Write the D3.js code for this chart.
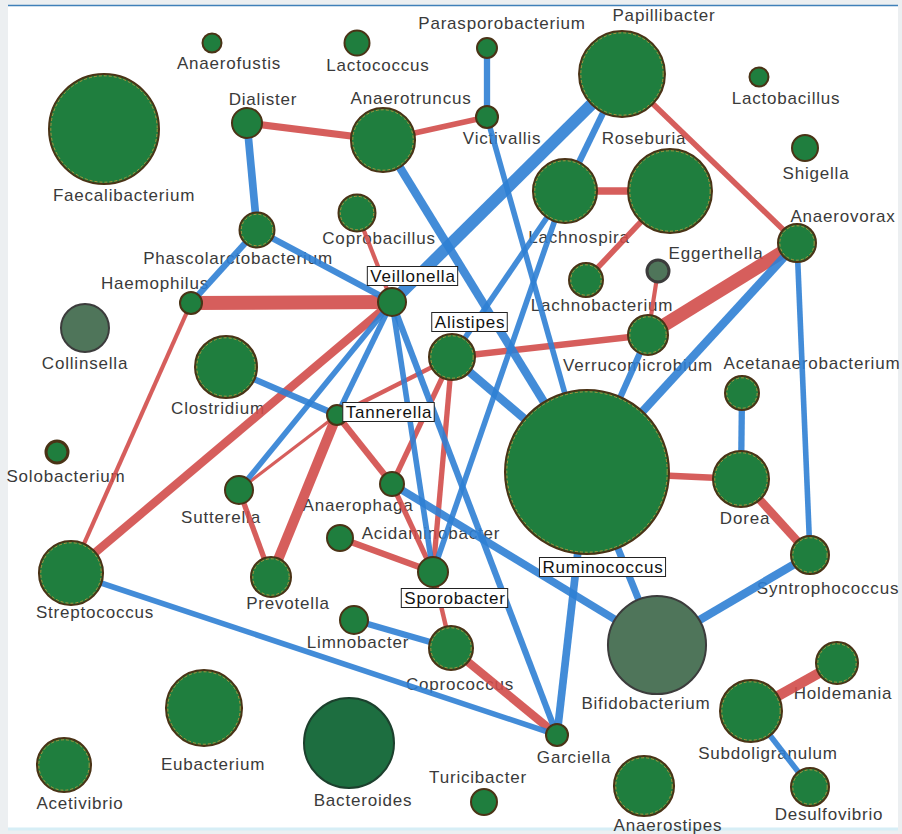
<!DOCTYPE html>
<html>
<head>
<meta charset="utf-8">
<script src="https://cdn.jsdelivr.net/npm/d3@7"></script>
<style>
  html, body { margin: 0; padding: 0; background: #eceff1; }
  svg { display: block; }
</style>
</head>
<body>
<svg id="chart" width="902" height="834"></svg>
<script>
// ---- Genera (nodes) ----
const genera = [
  "Anaerofustis", "Lactococcus", "Parasporobacterium", "Papillibacter", "Lactobacillus",
  "Faecalibacterium", "Dialister", "Anaerotruncus", "Victivallis", "Roseburia",
  "Lachnospira", "Shigella", "Anaerovorax", "Coprobacillus", "Phascolarctobacterium",
  "Eggerthella", "Lachnobacterium", "Haemophilus", "Veillonella", "Alistipes",
  "Collinsella", "Clostridium", "Verrucomicrobium", "Acetanaerobacterium", "Tannerella",
  "Solobacterium", "Ruminococcus", "Dorea", "Sutterella", "Anaerophaga",
  "Acidaminobacter", "Sporobacter", "Streptococcus", "Prevotella", "Syntrophococcus",
  "Limnobacter", "Coprococcus", "Bifidobacterium", "Holdemania", "Eubacterium",
  "Subdoligranulum", "Garciella", "Acetivibrio", "Bacteroides", "Turicibacter",
  "Anaerostipes", "Desulfovibrio"
];

// Relative abundance of each genus (node area)
const abundance = [
  1.31, 2.27, 1.45, 26.8, 1.31,
  43.9, 3.27, 14.9, 1.76, 25.6,
  14.9, 2.45, 5.24, 4.97, 4.45,
  1.76, 4.19, 1.76, 2.85, 7.68,
  8.36, 13.95, 5.81, 4.19, 1.45,
  1.76, 97.6, 11.4, 2.85, 2.09,
  2.45, 3.27, 14.9, 5.81, 5.24,
  2.85, 7.03, 34.9, 6.4, 21.0,
  13.95, 1.76, 10.6, 29.4, 2.45,
  13.1, 5.24
];

// Node category: "core" (default), "actino" (grey-green), "bact" (dark)
const nodeGroup = {
  Collinsella: "actino", Eggerthella: "actino", Bifidobacterium: "actino",
  Bacteroides: "bact"
};

// Hub genera get framed labels
const hubs = ["Veillonella", "Alistipes", "Tannerella", "Sporobacter", "Ruminococcus"];

// ---- Correlations (edges): positive = co-occurrence, negative = exclusion ----
const edgeSource = [
  "Dialister", "Anaerotruncus", "Papillibacter", "Lachnospira", "Roseburia",
  "Eggerthella", "Verrucomicrobium", "Haemophilus", "Haemophilus", "Veillonella",
  "Coprobacillus", "Alistipes", "Tannerella", "Tannerella", "Tannerella",
  "Tannerella", "Alistipes", "Alistipes", "Anaerophaga", "Acidaminobacter",
  "Sporobacter", "Coprococcus", "Sutterella", "Ruminococcus", "Dorea",
  "Subdoligranulum",
  "Parasporobacterium", "Dialister", "Phascolarctobacterium", "Phascolarctobacterium", "Anaerotruncus",
  "Victivallis", "Papillibacter", "Papillibacter", "Lachnospira", "Lachnospira",
  "Alistipes", "Verrucomicrobium", "Anaerovorax", "Anaerovorax", "Acetanaerobacterium",
  "Veillonella", "Veillonella", "Clostridium", "Veillonella", "Veillonella",
  "Ruminococcus", "Anaerophaga", "Ruminococcus", "Bifidobacterium", "Streptococcus",
  "Limnobacter", "Subdoligranulum"
];
const edgeTarget = [
  "Anaerotruncus", "Victivallis", "Anaerovorax", "Roseburia", "Lachnobacterium",
  "Verrucomicrobium", "Anaerovorax", "Veillonella", "Streptococcus", "Streptococcus",
  "Veillonella", "Verrucomicrobium", "Alistipes", "Sutterella", "Prevotella",
  "Anaerophaga", "Anaerophaga", "Sporobacter", "Sporobacter", "Sporobacter",
  "Coprococcus", "Garciella", "Prevotella", "Dorea", "Syntrophococcus",
  "Holdemania",
  "Victivallis", "Phascolarctobacterium", "Haemophilus", "Veillonella", "Ruminococcus",
  "Ruminococcus", "Veillonella", "Lachnospira", "Sporobacter", "Alistipes",
  "Ruminococcus", "Ruminococcus", "Ruminococcus", "Syntrophococcus", "Dorea",
  "Sutterella", "Tannerella", "Tannerella", "Sporobacter", "Garciella",
  "Garciella", "Bifidobacterium", "Bifidobacterium", "Syntrophococcus", "Garciella",
  "Coprococcus", "Desulfovibrio"
];
const edgeCorr = [
  0.50, 0.40, 0.40, 0.55, 0.40,
  0.30, 0.95, 1.00, 0.30, 0.60,
  0.30, 0.45, 0.30, 0.22, 0.72,
  0.45, 0.38, 0.38, 0.38, 0.45,
  0.32, 0.60, 0.38, 0.45, 0.60,
  0.72,
  -0.45, -0.55, -0.45, -0.45, -0.60,
  -0.40, -0.85, -0.45, -0.40, -0.40,
  -0.60, -0.45, -0.60, -0.40, -0.45,
  -0.40, -0.40, -0.45, -0.40, -0.45,
  -0.55, -0.55, -0.50, -0.60, -0.40,
  -0.45, -0.40
];

// ---- Layout (node centres and label anchors, layout units) ----
const layout = {
  Anaerofustis: [212, 43, 229, 63], Lactococcus: [357, 43, 378, 65],
  Parasporobacterium: [487, 48, 502, 23], Papillibacter: [622, 74, 664, 15],
  Lactobacillus: [759, 77, 786, 98], Faecalibacterium: [104, 129, 124, 195],
  Dialister: [247, 123, 263, 99], Anaerotruncus: [383, 140, 411, 98],
  Victivallis: [487, 117, 502, 138], Roseburia: [670, 191, 644, 138],
  Lachnospira: [565, 191, 579, 237], Shigella: [805, 148, 816, 173],
  Anaerovorax: [797, 243, 843, 216], Coprobacillus: [357, 213, 379, 238],
  Phascolarctobacterium: [257, 230, 238, 258], Eggerthella: [658, 271, 716, 253],
  Lachnobacterium: [586, 280, 602, 305], Haemophilus: [191, 303, 155, 283],
  Veillonella: [392, 302, 413, 276], Alistipes: [452, 357, 470, 322],
  Collinsella: [85, 328, 85, 363], Clostridium: [226, 367, 218, 408],
  Verrucomicrobium: [648, 335, 638, 365], Acetanaerobacterium: [742, 393, 812, 363],
  Tannerella: [337, 415, 389, 412], Solobacterium: [57, 452, 66, 476],
  Ruminococcus: [587, 472, 603, 567], Dorea: [741, 479, 745, 518],
  Sutterella: [239, 490, 221, 517], Anaerophaga: [392, 484, 358, 505],
  Acidaminobacter: [340, 538, 431, 533], Sporobacter: [433, 572, 455, 598],
  Streptococcus: [71, 573, 95, 612], Prevotella: [271, 577, 288, 603],
  Syntrophococcus: [810, 555, 828, 588], Limnobacter: [354, 620, 358, 642],
  Coprococcus: [451, 648, 460, 684], Bifidobacterium: [657, 645, 646, 703],
  Holdemania: [837, 663, 843, 693], Eubacterium: [204, 708, 213, 764],
  Subdoligranulum: [751, 711, 768, 753], Garciella: [557, 735, 574, 757],
  Acetivibrio: [64, 765, 80, 803], Bacteroides: [349, 743, 363, 800],
  Turicibacter: [484, 802, 478, 777], Anaerostipes: [644, 786, 668, 825],
  Desulfovibrio: [810, 787, 829, 814]
};

// ---- Scales ----
const W = 902, H = 834;
const x = d3.scaleLinear().domain([0, 902]).range([0, W]);
const y = d3.scaleLinear().domain([0, 834]).range([0, H]);
const radius = d3.scaleSqrt().domain([0, 100]).range([0, 83]);
const width = d3.scaleLinear().domain([0, 1]).range([0, 14]);
const signColor = d3.scaleThreshold().domain([0]).range(["#2f80d4", "#d24d4a"]);

const svg = d3.select("#chart");

// Panel background
svg.append("rect").attr("x", 0).attr("y", 0).attr("width", W).attr("height", H).attr("fill", "#eceff1");
svg.append("rect").attr("x", 8).attr("y", 5).attr("width", W - 12).attr("height", H - 10).attr("fill", "#ffffff");
svg.append("line").attr("x1", 8).attr("x2", W - 4).attr("y1", 5.5).attr("y2", 5.5)
  .attr("stroke", "#3f80b9").attr("stroke-width", 1.5);
svg.append("line").attr("x1", 8).attr("x2", W - 4).attr("y1", H - 5).attr("y2", H - 5)
  .attr("stroke", "#d6eef6").attr("stroke-width", 3);

const nodes = genera.map((g, i) => ({
  id: g,
  abundance: abundance[i],
  group: nodeGroup[g] || "core",
  x: layout[g][0], y: layout[g][1],
  lx: layout[g][2], ly: layout[g][3],
  hub: hubs.includes(g)
}));
const byId = new Map(nodes.map(n => [n.id, n]));
const links = edgeSource.map((s, i) => ({
  source: byId.get(s), target: byId.get(edgeTarget[i]), corr: edgeCorr[i]
}));

const font = "'Liberation Sans', Arial, Helvetica, sans-serif";

// Plain labels (under the edges)
const plain = svg.append("g").attr("class", "labels");
plain.selectAll("text").data(nodes.filter(n => !n.hub)).join("text")
  .attr("x", d => x(d.lx)).attr("y", d => y(d.ly))
  .attr("text-anchor", "middle").attr("dominant-baseline", "central")
  .attr("font-family", font).attr("font-size", 17).attr("letter-spacing", 0.8)
  .attr("fill", "#3a3a3a")
  .text(d => d.id);

// Edges
svg.append("g").attr("class", "edges")
  .selectAll("line").data(links).join("line")
  .attr("x1", d => x(d.source.x)).attr("y1", d => y(d.source.y))
  .attr("x2", d => x(d.target.x)).attr("y2", d => y(d.target.y))
  .attr("stroke", d => signColor(d.corr))
  .attr("stroke-width", d => width(Math.abs(d.corr)))
  .attr("stroke-opacity", 0.9);

// Nodes
const fills = { core: "#1f7e3e", actino: "#4f755a", bact: "#1d6e40" };
const strokes = { core: "#4a3316", actino: "#3c3c3c", bact: "#1c402d" };
const ng = svg.append("g").attr("class", "nodes")
  .selectAll("g").data(nodes).join("g")
  .attr("transform", d => `translate(${x(d.x)},${y(d.y)})`);
ng.append("circle")
  .attr("r", d => radius(d.abundance))
  .attr("fill", d => fills[d.group])
  .attr("stroke", d => strokes[d.group])
  .attr("stroke-width", d => d.id === "Eggerthella" || d.id === "Solobacterium" ? 3 : 2);
ng.filter(d => d.group === "core" && radius(d.abundance) > 16)
  .append("circle")
  .attr("r", d => radius(d.abundance) - 1.8)
  .attr("fill", "none")
  .attr("stroke", "#c9973c")
  .attr("stroke-width", 0.8)
  .attr("stroke-dasharray", "3,2");

// Framed labels for hub genera (on top)
const framed = svg.append("g").attr("class", "hub-labels")
  .selectAll("g").data(nodes.filter(n => n.hub)).join("g")
  .attr("transform", d => `translate(${x(d.lx)},${y(d.ly)})`);
framed.append("text")
  .attr("text-anchor", "middle").attr("dominant-baseline", "central")
  .attr("font-family", font).attr("font-size", 17).attr("letter-spacing", 0.8)
  .attr("fill", "#111")
  .text(d => d.id);
framed.each(function () {
  const g = d3.select(this);
  const bb = g.select("text").node().getBBox();
  g.insert("rect", "text")
    .attr("x", bb.x - 3).attr("y", -9.5)
    .attr("width", bb.width + 5).attr("height", 19)
    .attr("fill", "#fff").attr("stroke", "#222").attr("stroke-width", 1);
});
</script>
</body>
</html>
